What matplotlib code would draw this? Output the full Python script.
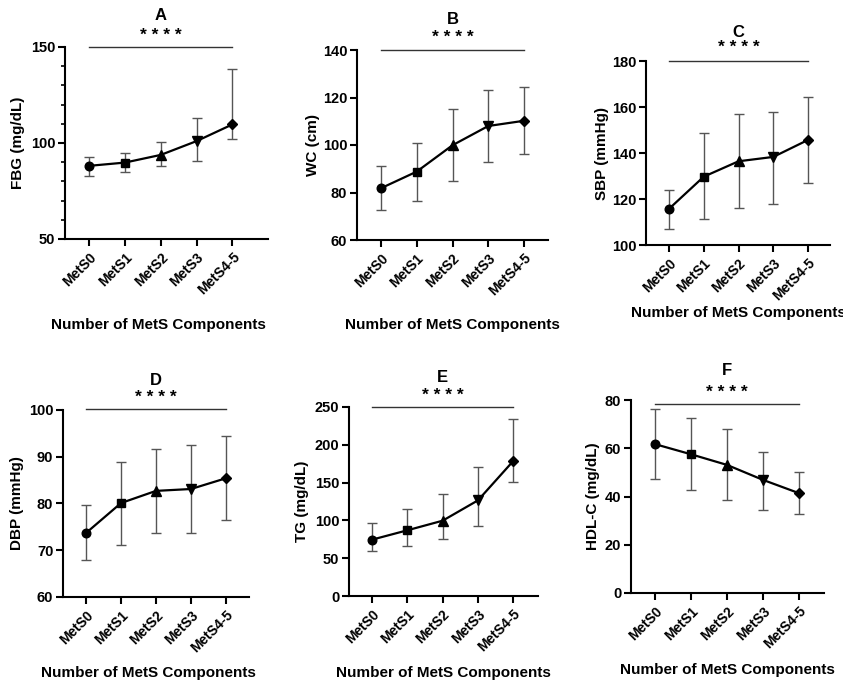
import matplotlib
matplotlib.use("Agg")
import matplotlib.pyplot as plt
from matplotlib.ticker import MultipleLocator

plt.rcParams['font.family'] = ['Liberation Sans', 'DejaVu Sans']
plt.rcParams['font.weight'] = 'bold'

categories = ["MetS0", "MetS1", "MetS2", "MetS3", "MetS4-5"]
markers = ["o", "s", "^", "v", "D"]

fbg_mean = [88.1, 89.8, 93.8, 101.0, 109.7]
fbg_low = [82.9, 84.8, 88.1, 90.8, 101.9]
fbg_high = [92.9, 94.6, 100.7, 112.8, 138.8]

wc_mean = [81.8, 88.8, 99.9, 108.0, 110.2]
wc_low = [72.6, 76.6, 84.8, 92.8, 96.1]
wc_high = [91.2, 101.0, 115.0, 123.0, 124.6]

sbp_mean = [115.7, 129.7, 136.4, 138.3, 145.7]
sbp_low = [107.1, 111.2, 115.9, 118.0, 126.8]
sbp_high = [124.1, 148.6, 156.8, 158.0, 164.5]

dbp_mean = [73.7, 80.1, 82.7, 83.1, 85.4]
dbp_low = [67.9, 71.1, 73.7, 73.6, 76.4]
dbp_high = [79.6, 88.9, 91.7, 92.6, 94.4]

tg_mean = [74.5, 86.9, 99.6, 126.5, 178.6]
tg_low = [59.1, 66.6, 75.4, 92.2, 151.2]
tg_high = [96.6, 115.1, 134.9, 170.6, 234.1]

hdl_mean = [61.7, 57.5, 53.1, 46.9, 41.4]
hdl_low = [47.2, 42.6, 38.5, 34.6, 32.6]
hdl_high = [76.1, 72.7, 67.9, 58.6, 50.3]

panels = [
    dict(letter="A", ylabel="FBG (mg/dL)", mean=fbg_mean, low=fbg_low, high=fbg_high,
         ylim=(50, 150), major=50, minor=10, sig=150,
         box=(65, 268, 47, 239), xlim=(-0.67, 4.99), star_off=12, title_off=32,
         xl=(0.46, 325), yl=18),
    dict(letter="B", ylabel="WC (cm)", mean=wc_mean, low=wc_low, high=wc_high,
         ylim=(60, 140), major=20, minor=None, sig=140,
         box=(357, 548, 50, 240), xlim=(-0.67, 4.67), star_off=13, title_off=31,
         xl=(0.5, 325), yl=313),
    dict(letter="C", ylabel="SBP (mmHg)", mean=sbp_mean, low=sbp_low, high=sbp_high,
         ylim=(100, 180), major=20, minor=None, sig=180,
         box=(646, 830, 61, 245), xlim=(-0.66, 4.63), star_off=14, title_off=29,
         xl=(0.5, 313), yl=602),
    dict(letter="D", ylabel="DBP (mmHg)", mean=dbp_mean, low=dbp_low, high=dbp_high,
         ylim=(60, 100), major=10, minor=None, sig=100.3,
         box=(63, 249, 410, 597), xlim=(-0.66, 4.66), star_off=11, title_off=28,
         xl=(0.46, 673), yl=17),
    dict(letter="E", ylabel="TG (mg/dL)", mean=tg_mean, low=tg_low, high=tg_high,
         ylim=(0, 250), major=50, minor=None, sig=250,
         box=(349, 538, 407, 596), xlim=(-0.65, 4.7), star_off=12, title_off=30,
         xl=(0.5, 673), yl=302),
    dict(letter="F", ylabel="HDL-C (mg/dL)", mean=hdl_mean, low=hdl_low, high=hdl_high,
         ylim=(0, 80), major=20, minor=None, sig=78.3,
         box=(631, 824, 400, 593), xlim=(-0.67, 4.7), star_off=12, title_off=34,
         xl=(0.5, 670), yl=593),
]

W, H = 843, 686
fig = plt.figure(figsize=(W / 100, H / 100), dpi=100)

for p in panels:
    l, r, t, b = p["box"]
    ax = fig.add_axes([l / W, 1 - b / H, (r - l) / W, (b - t) / H])
    x = list(range(len(categories)))
    m = p["mean"]
    yerr = [[mi - lo for mi, lo in zip(m, p["low"])], [hi - mi for mi, hi in zip(m, p["high"])]]
    ax.errorbar(x, m, yerr=yerr, fmt="none", ecolor="#555555", elinewidth=1.0,
                capsize=3.5, capthick=1.0, zorder=2)
    ax.plot(x, m, color="black", lw=1.6, zorder=3)
    for xi, yi, mk in zip(x, m, markers):
        ms = 6.2 if mk in ("o", "s") else (6.5 if mk in ("^", "v") else 5.2)
        ax.plot([xi], [yi], marker=mk, color="black", ms=ms, zorder=4, linestyle="none")
    ax.set_xlim(*p["xlim"])
    ax.set_ylim(*p["ylim"])
    ax.yaxis.set_major_locator(MultipleLocator(p["major"]))
    if p["minor"]:
        ax.yaxis.set_minor_locator(MultipleLocator(p["minor"]))
    ax.set_xticks(x)
    ax.set_xticklabels(categories, rotation=45, ha="right", rotation_mode="anchor",
                       fontsize=10, fontweight="bold")
    for lab in ax.get_yticklabels():
        lab.set_fontsize(10.5)
        lab.set_fontweight("bold")
    for s in ("top", "right"):
        ax.spines[s].set_visible(False)
    for s in ("left", "bottom"):
        ax.spines[s].set_linewidth(1.5)
    ax.tick_params(axis="both", which="major", direction="out", length=5, width=1.5, pad=2)
    ax.tick_params(axis="y", which="minor", direction="out", length=3, width=1.2)
    ax.tick_params(axis="x", pad=3)

    # significance bracket
    ax.plot([0, 4], [p["sig"], p["sig"]], color="#333333", lw=1.0, clip_on=False)
    ax.annotate("* * * *", xy=(2, p["sig"]), xytext=(0, p["star_off"] * 0.72),
                textcoords="offset points", ha="center", va="center",
                fontsize=12.5, fontweight="bold", annotation_clip=False)
    ax.annotate(p["letter"], xy=(2, p["sig"]), xytext=(0, p["title_off"] * 0.72),
                textcoords="offset points", ha="center", va="center",
                fontsize=12, fontweight="bold", annotation_clip=False)

    # axis labels
    xlx, xly = p["xl"]
    fig.text((l + xlx * (r - l)) / W, 1 - xly / H, "Number of MetS Components",
             ha="center", va="center", fontsize=11, fontweight="bold")
    fig.text(p["yl"] / W, 1 - (t + b) / 2 / H, p["ylabel"], rotation=90,
             ha="center", va="center", fontsize=11, fontweight="bold")

fig.savefig("out.png", dpi=100)
